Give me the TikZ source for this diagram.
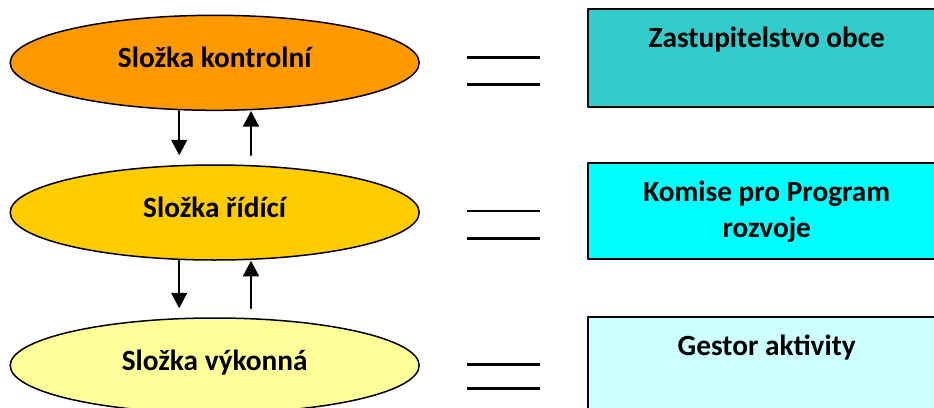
\documentclass[tikz,border=0pt]{standalone}
\usepackage{fontspec}
\setmainfont{Carlito}
\usetikzlibrary{arrows.meta,positioning,shapes.geometric}
\definecolor{kontrolni}{HTML}{FF9900}
\definecolor{ridici}{HTML}{FFCC00}
\definecolor{vykonna}{HTML}{FFFF99}
\definecolor{zastup}{HTML}{33CCCC}
\definecolor{komise}{HTML}{00FFFF}
\definecolor{gestor}{HTML}{CCFFFF}
\begin{document}
\begin{tikzpicture}[line cap=round,line join=round,>={Triangle[width=16pt,length=15.5pt]},x=1pt,y=-1pt,
		slozka/.style={ellipse,draw,line width=1.5pt,minimum width=409pt,minimum height=95pt,inner sep=0pt,
			font=\fontsize{29.3}{36}\selectfont\bfseries,text height=21pt,text depth=11pt},
		organ/.style={draw,line width=1.5pt,line cap=butt,anchor=north west,minimum width=358pt},
		popis/.style={inner sep=0pt,align=center,font=\fontsize{29.3}{36}\selectfont\bfseries},
		rovna/.style={line width=2.5pt,line cap=butt}]
				\useasboundingbox (0,0) rectangle (934,407);
				\clip (0,0) rectangle (934,407);
				% slozky
				\node[slozka,fill=kontrolni] (kontr) at (214.7,62.8) {Složka kontrolní};
				\node[slozka,fill=ridici] (ridi) at (214.7,212.5) {Složka řídící};
				\node[slozka,fill=vykonna] (vykon) at (214.7,365.5) {Složka výkonná};
				\draw [line width=1.6pt,->] ([xshift=-35.5pt]kontr.south) -- ([xshift=-35.5pt,yshift=9pt]ridi.north);
				\draw [line width=1.6pt,->] ([xshift=36.3pt,yshift=9pt]ridi.north) -- ([xshift=36.3pt]kontr.south);
				\draw [line width=1.6pt,->] ([xshift=-35.5pt]ridi.south) -- ([xshift=-35.5pt,yshift=9pt]vykon.north);
				\draw [line width=1.6pt,->] ([xshift=36.3pt,yshift=9pt]vykon.north) -- ([xshift=36.3pt]ridi.south);
				% rovnitka
				\draw [rovna] (467,57.7)-- (540,57.7);
				\draw [rovna] (467,84.3)-- (540,84.3);
				\draw [rovna] (467,211)-- (540,211);
				\draw [rovna] (467,238.3)-- (540,238.3);
				\draw [rovna] (467,364.7)-- (540,364.7);
				\draw [rovna] (467,388.7)-- (540,388.7);
				% organy
				\node[organ,fill=zastup,minimum height=98pt] (zastup) at (587,8) {};
				\node[popis,below=19pt of zastup.north] (zastup-t) {Zastupitelstvo obce};
				\node[organ,fill=komise,minimum height=96pt] (komise) at (587,162) {};
				\node[popis,below=19pt of komise.north] (komise-t) {Komise pro Program\\rozvoje};
				\node[organ,fill=gestor,minimum height=98pt] (gestor) at (587,316) {};
				\node[popis,below=19pt of gestor.north] (gestor-t) {Gestor aktivity};
			\end{tikzpicture}
\end{document}
